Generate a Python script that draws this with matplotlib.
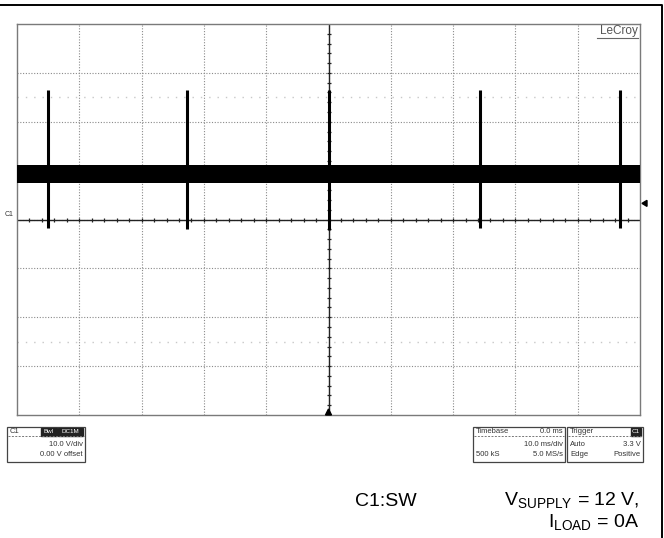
import numpy as np
import matplotlib.pyplot as plt
from matplotlib.patches import Rectangle, Polygon

plt.rcParams['font.family'] = ['Liberation Sans', 'DejaVu Sans']

# trace (10 V/div, 10 ms/div)
spike_t = [-45.0, -22.7, 0.1, 24.3, 46.8]      # ms
spike_hi = [26.5, 26.5, 26.5, 26.5, 26.5]      # V
spike_lo = [-1.8, -1.9, -2.2, -1.8, -1.8]      # V
band_t = [-50, 50]
band_lo = [7.5, 7.5]        # noise band on the switch node
band_hi = [11.1, 11.1]
trig_level = 3.3

W, H = 664, 538
fig = plt.figure(figsize=(W / 100, H / 100), dpi=100)
fig.patch.set_facecolor('white')

# graticule area in pixels
gx0, gx1, gy0, gy1 = 17, 640, 24, 415
ax = fig.add_axes([gx0 / W, 1 - gy1 / H, (gx1 - gx0) / W, (gy1 - gy0) / H])
ax.set_xlim(-50, 50)
ax.set_ylim(-40, 40)
ax.set_xticks(np.arange(-40, 41, 10))
ax.set_yticks(np.arange(-30, 31, 10))
ax.tick_params(length=0, labelbottom=False, labelleft=False)
ax.grid(True, linestyle=(0, (1, 1.5)), color='#8a8a8a', lw=0.8)
for s in ax.spines.values():
    s.set_color('#7a7a7a')
    s.set_linewidth(1.0)

# faint extra rows of dots
for yv in (-25, 25):
    ax.axhline(yv, color='#c8c8c8', lw=1.0, linestyle=(0, (1, 5)))

# center axes with small ticks
ax.axhline(0, color='#222222', lw=1.0)
ax.axvline(0, color='#222222', lw=1.0)
xt = np.arange(-48, 49, 2)
ax.plot(xt, np.zeros_like(xt), linestyle='none', marker='|', ms=3, mew=0.9, color='#222222')
yt = np.arange(-38, 39, 2)
ax.plot(np.zeros_like(yt), yt, linestyle='none', marker='_', ms=3, mew=0.9, color='#222222')

# trace
ax.fill_between(band_t, band_lo, band_hi, color='black', lw=0, zorder=3)
ax.vlines(spike_t, spike_lo, spike_hi, color='black', lw=2.2, zorder=4)

# overlay in pixel coordinates
ov = fig.add_axes([0, 0, 1, 1], facecolor='none')
ov.set_xlim(0, W)
ov.set_ylim(H, 0)
ov.axis('off')

# outer frame
ov.plot([0, 661.5, 661.5], [4.5, 4.5, 537], color='black', lw=1.4)

# LeCroy logo
ov.text(638, 31, 'LeCroy', ha='right', va='center', fontsize=8.5, color='#555555')
ov.plot([597, 638], [37.5, 37.5], color='#666666', lw=0.8)

# markers
ty = gy1 - (trig_level + 40) / 80 * (gy1 - gy0)
ov.add_patch(Polygon([[642, ty], [647, ty - 3], [647, ty + 3]], closed=True, color='black'))
cx = (gx0 + gx1) / 2
ov.add_patch(Polygon([[cx, gy1 - 6], [cx - 3, gy1], [cx + 3, gy1]], closed=True, color='black'))
ov.text(5, 214, 'C1', fontsize=5, color='#333333', va='center')

fs = 5.5
tc = '#333333'


def box(x0, x1, y0, y1):
    ov.add_patch(Rectangle((x0, y0), x1 - x0, y1 - y0, fill=False, ec='#444444', lw=0.9))
    ov.plot([x0 + 1, x1 - 1], [y0 + 9, y0 + 9], color='#777777', lw=0.7, linestyle=(0, (2, 1.5)))


def tag(x0, x1, y, label):
    ov.add_patch(Rectangle((x0, y - 4), x1 - x0, 8, color='#222222'))
    ov.text((x0 + x1) / 2, y, label, ha='center', va='center', fontsize=4.5, color='white')


# C1 box
box(7, 85, 427, 462)
ov.text(10, 431.5, 'C1', fontsize=fs, color=tc, va='center')
tag(41, 57, 431.5, 'Bwl')
tag(58, 83, 431.5, 'DC1M')
ov.text(83, 445, '10.0 V/div', fontsize=fs, color=tc, va='center', ha='right')
ov.text(83, 455, '0.00 V offset', fontsize=fs, color=tc, va='center', ha='right')

# Timebase box
box(473, 565, 427, 462)
ov.text(476, 431.5, 'Timebase', fontsize=fs, color=tc, va='center')
ov.text(563, 431.5, '0.0 ms', fontsize=fs, color=tc, va='center', ha='right')
ov.text(563, 445, '10.0 ms/div', fontsize=fs, color=tc, va='center', ha='right')
ov.text(476, 455, '500 kS', fontsize=fs, color=tc, va='center')
ov.text(563, 455, '5.0 MS/s', fontsize=fs, color=tc, va='center', ha='right')

# Trigger box
box(567, 643, 427, 462)
ov.text(570, 431.5, 'Trigger', fontsize=fs, color=tc, va='center')
tag(631, 641, 431.5, 'C1')
ov.text(570, 445, 'Auto', fontsize=fs, color=tc, va='center')
ov.text(641, 445, '3.3 V', fontsize=fs, color=tc, va='center', ha='right')
ov.text(570, 455, 'Edge', fontsize=fs, color=tc, va='center')
ov.text(641, 455, 'Positive', fontsize=fs, color=tc, va='center', ha='right')

# caption
ov.text(355, 501, 'C1:SW', fontsize=14, va='center', ha='left')
ov.text(639, 501, r'V$_{\mathregular{SUPPLY}}$ = 12 V,', fontsize=14, va='center', ha='right')
ov.text(639, 523, r'I$_{\mathregular{LOAD}}$ = 0A', fontsize=14, va='center', ha='right')

fig.savefig('out.png', dpi=100)
